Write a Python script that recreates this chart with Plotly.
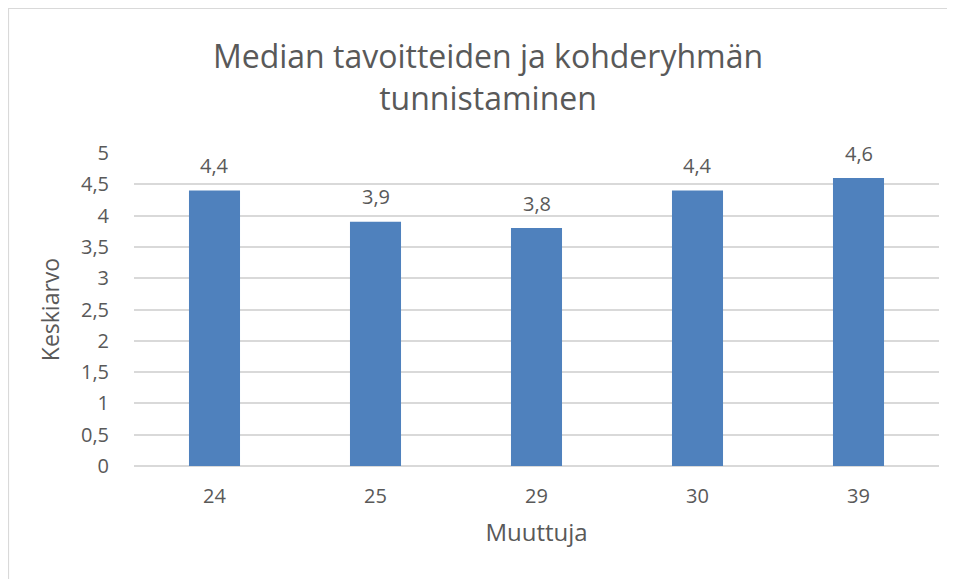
import plotly.graph_objects as go

categories = ["24", "25", "29", "30", "39"]
values = [4.4, 3.9, 3.8, 4.4, 4.6]

title_text = "Median tavoitteiden ja kohderyhmän<br>tunnistaminen"
x_title = "Muuttuja"
y_title = "Keskiarvo"

# page body has an 8px margin, so the figure is slightly smaller than the window
W, H = 947, 571
L, R, T, B = 126, 16, 145, 113
pw, ph = W - L - R, H - T - B

text_color = "#595959"
font_family = "Open Sans, Noto Sans, Liberation Sans, sans-serif"

fig = go.Figure()
fig.add_trace(go.Bar(
    x=categories, y=values,
    marker=dict(color="#4F81BD", line=dict(width=0)),
    hoverinfo="skip",
))

for i, v in enumerate(values):
    fig.add_annotation(x=i, y=v, text=f"{v:.1f}".replace(".", ","), showarrow=False,
                       yanchor="middle", yshift=25,
                       font=dict(size=20, color=text_color, family=font_family))

# outer chart border
fig.add_shape(type="rect", xref="paper", yref="paper",
              x0=(0.5 - L) / pw, x1=(W + 10 - L) / pw,
              y0=-(H + 10 - (H - B)) / ph, y1=((H - B) - 0.5) / ph,
              line=dict(color="#D9D9D9", width=1.2), layer="below")

fig.update_layout(
    width=W, height=H,
    margin=dict(l=L, r=R, t=T, b=B),
    paper_bgcolor="white", plot_bgcolor="white",
    separators=", ",
    bargap=0.683,
    showlegend=False,
    font=dict(family=font_family, color=text_color),
    title=dict(text=title_text, x=480 / W, xanchor="center",
               yref="container", y=1 - 60 / H, yanchor="middle",
               font=dict(size=32, color=text_color, family=font_family)),
    xaxis=dict(type="category", range=[-0.5, 4.5], showgrid=False, showline=False,
               zeroline=False, ticks="outside", ticklen=12, tickcolor="rgba(0,0,0,0)",
               tickfont=dict(size=20, color=text_color),
               title=dict(text=x_title, font=dict(size=24, color=text_color), standoff=16)),
    yaxis=dict(range=[0, 5], dtick=0.5, tick0=0, showgrid=True, gridcolor="#D9D9D9",
               gridwidth=1.5, zeroline=True, zerolinecolor="#D9D9D9", zerolinewidth=1.5,
               showline=False, ticks="outside", ticklen=20, tickcolor="rgba(0,0,0,0)",
               tickfont=dict(size=20, color=text_color),
               title=dict(text=y_title, font=dict(size=23, color=text_color), standoff=14)),
)

fig.write_html("out.html")
